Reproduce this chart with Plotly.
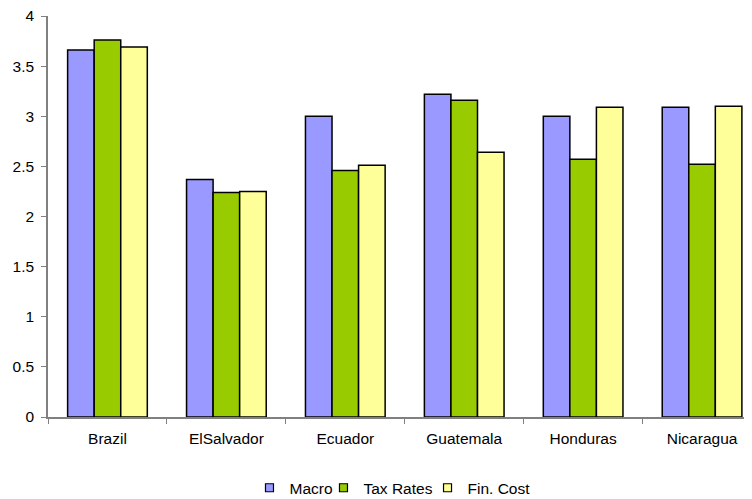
import plotly.graph_objects as go

categories = ["Brazil", "ElSalvador", "Ecuador", "Guatemala", "Honduras", "Nicaragua"]
macro = [3.66, 2.37, 3.00, 3.22, 3.00, 3.09]
tax_rates = [3.76, 2.24, 2.46, 3.16, 2.57, 2.52]
fin_cost = [3.69, 2.25, 2.51, 2.64, 3.09, 3.10]
y_ticks = [0, 0.5, 1, 1.5, 2, 2.5, 3, 3.5, 4]
y_labels = ["0", "0.5", "1", "1.5", "2", "2.5", "3", "3.5", "4"]

series_names = ["Macro", "Tax Rates", "Fin. Cost"]
series_values = [macro, tax_rates, fin_cost]
series_colors = ["#9999FF", "#99CC00", "#FFFF99"]
legend_ids = ["legend", "legend2", "legend3"]
legend_x = [0.2862, 0.3913, 0.5391]

fig = go.Figure()
for name, vals, color in zip(series_names, series_values, series_colors):
    fig.add_trace(go.Bar(x=categories, y=vals, name=name, showlegend=False,
                         marker=dict(color=color, line=dict(color="#000000", width=1.5))))
for name, color, lid in zip(series_names, series_colors, legend_ids):
    fig.add_trace(go.Scatter(x=[None], y=[None], mode="markers", name=name, legend=lid,
                             marker=dict(symbol="square", size=8, color=color,
                                         line=dict(color="#000000", width=1.2))))

font_fam = "Liberation Sans, Arial, sans-serif"
legend_common = dict(orientation="h", xanchor="left", yref="container", y=0.022,
                     yanchor="middle", font=dict(size=15.5), itemwidth=30,
                     bgcolor="rgba(0,0,0,0)")
fig.update_layout(
    width=744, height=491,
    margin=dict(l=40, r=0, t=8, b=82, autoexpand=False),
    paper_bgcolor="white", plot_bgcolor="white",
    barmode="group", bargap=0.33, bargroupgap=0,
    font=dict(family=font_fam, size=15.5, color="#000000"),
    showlegend=True,
    legend=dict(x=legend_x[0], **legend_common),
    legend2=dict(x=legend_x[1], **legend_common),
    legend3=dict(x=legend_x[2], **legend_common),
    xaxis=dict(range=[-0.5, 5.42], showline=True, linecolor="#808080", linewidth=1.5,
               ticks="outside", tickson="boundaries", ticklen=5, tickcolor="#808080",
               showgrid=False, zeroline=False, automargin=False, ticklabelstandoff=7,
               ticklabeloverflow="allow", tickfont=dict(size=15.5)),
    yaxis=dict(range=[0, 4], tickvals=y_ticks, ticktext=y_labels, showline=True,
               linecolor="#808080", linewidth=1.5, ticks="outside", ticklen=5,
               tickcolor="#808080", showgrid=False, zeroline=False, automargin=False,
               ticklabelstandoff=4, ticklabeloverflow="allow", tickfont=dict(size=15.5)),
)

fig.write_html("out.html")
